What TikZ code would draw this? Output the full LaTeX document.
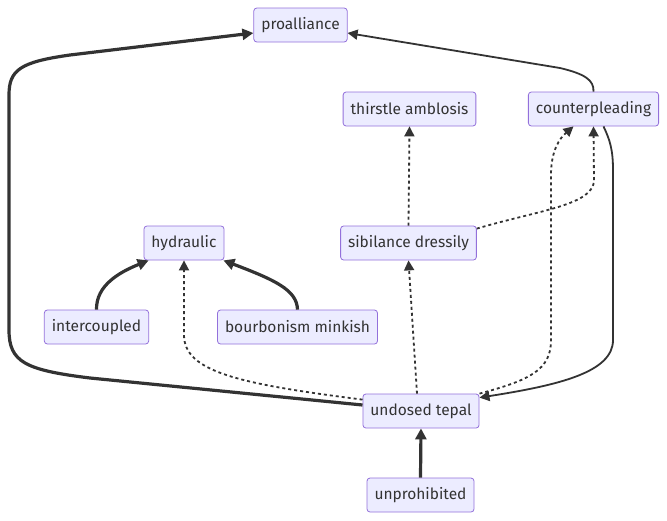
\documentclass[tikz,border=0pt]{standalone}
\usepackage{fontspec}
\setmainfont{Fira Sans}
\usetikzlibrary{arrows.meta}
\definecolor{boxfill}{HTML}{ECECFF}
\definecolor{boxline}{HTML}{9370DB}
\definecolor{linkgray}{HTML}{333333}
\tikzset{
    box/.style={draw=boxline, fill=boxfill, line width=0.8pt, rounded corners=3pt,
        minimum height=34pt, inner xsep=7.5pt, text=linkgray, font=\fontsize{15.5}{18}\selectfont},
    link/.style={linkgray, line width=1.8pt, -{Triangle[length=10pt,width=10pt]}},
    thicklink/.style={linkgray, line width=3.2pt, -{Triangle[length=11pt,width=11pt]}},
    dottedlink/.style={linkgray, line width=1.8pt, dash pattern=on 3pt off 3pt, -{Triangle[length=10pt,width=10pt]}},
}

\begin{document}
\begin{tikzpicture}[x=1pt,y=-1pt]
    \useasboundingbox (0,0) rectangle (667,520);

    \node[box] (pa) at (300.5,25) {proalliance};
    \node[box] (ta) at (409.5,109) {thirstle amblosis};
    \node[box] (cp) at (593.5,109) {counterpleading};
    \node[box] (hy) at (184,243) {hydraulic};
    \node[box] (sd) at (408.5,243) {sibilance dressily};
    \node[box] (ic) at (96.5,327) {intercoupled};
    \node[box] (bm) at (297.5,327) {bourbonism minkish};
    \node[box] (ut) at (421,411) {undosed tepal};
    \node[box] (up) at (420.5,495) {unprohibited};

    % solid links
    \draw[thicklink] ([yshift=6pt]ut.west) -- (90,378) .. controls (25,370) and (9,362) .. (9,330)
        -- (9,95) .. controls (9,70) and (20,62) .. (70,55) -- ([yshift=-8pt]pa.west);
    \draw[link] (cp.north) .. controls (594,80) and (585,74) .. (560,68) -- ([yshift=-8pt]pa.east);
    \draw[link] ([xshift=10pt]cp.south) .. controls (610,140) and (613,150) .. (613,170)
        -- (613,340) .. controls (613,372) and (560,385) .. ([yshift=-4pt]ut.north east);
    \draw[thicklink] (ic.north) .. controls (96,285) and (120,272) .. ([xshift=5pt]hy.south west);
    \draw[thicklink] (bm.north) .. controls (297,290) and (275,280) .. ([xshift=-1pt]hy.south east);
    \draw[thicklink] (up.north) -- (ut.south);

    % dotted links
    \draw[dottedlink] (sd.north) -- (ta.south);
    \draw[dottedlink] ([yshift=-3pt]sd.north east) .. controls (540,210) and (594,205) .. (594,180) -- (cp.south);
    \draw[dottedlink] (ut.north east) .. controls (530,380) and (551,370) .. (551,340)
        -- (551,175) .. controls (551,150) and (560,138) .. ([xshift=-20pt]cp.south);
    \draw[dottedlink] ([yshift=-6pt]ut.north west) .. controls (240,384) and (184,372) .. (184,335) -- (hy.south);
    \draw[dottedlink] ([xshift=-4pt]ut.north) -- (sd.south);
\end{tikzpicture}
\end{document}
